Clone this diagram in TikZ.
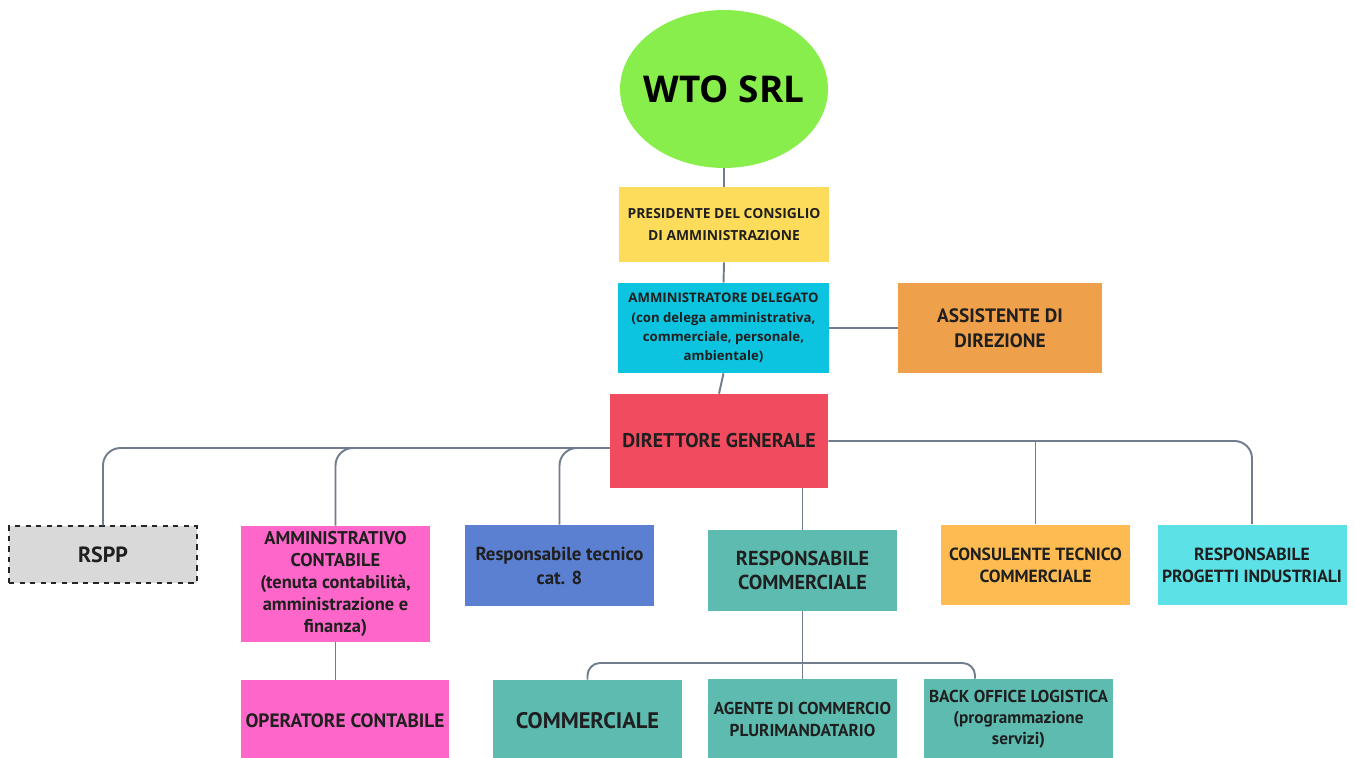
\documentclass[tikz,border=0pt]{standalone}
\usepackage{fontspec}
\setmainfont{PT Sans}
\newfontfamily\opensans{Open Sans}
\usetikzlibrary{shapes.geometric}
\definecolor{linec}{HTML}{717C8E}
\definecolor{wtog}{HTML}{88EE4C}
\definecolor{presy}{HTML}{FDDC5C}
\definecolor{adc}{HTML}{0CC4E0}
\definecolor{assc}{HTML}{EFA04B}
\definecolor{dgr}{HTML}{F04B5E}
\definecolor{rsppg}{HTML}{D9D9D9}
\definecolor{pinkc}{HTML}{FF66C9}
\definecolor{bluec}{HTML}{5B80D2}
\definecolor{tealc}{HTML}{5DBBB0}
\definecolor{consc}{HTML}{FDBB52}
\definecolor{progc}{HTML}{5CE1E6}
\tikzset{ b/.style = { rectangle
                     , inner sep      = 1pt
                     , align          = center
                     , text           = black!88
                     , font           = \bfseries\fontsize{10.2}{12.5}\selectfont
                     , minimum width  = 3.78cm
                     , minimum height = 1.62cm
                     },
          link/.style = { draw = linec
                        , line width = 1.1pt
                        , rounded corners = 0.35cm
                        }
        }

\begin{document}
\begin{tikzpicture}[x=0.02cm, y=-0.02cm]
    \useasboundingbox (0,0) rectangle (1355,757);
    \clip (0,0) rectangle (1355,757);
    % top of the chart
    \node[ellipse, fill=wtog, inner sep=0pt, minimum width=4.16cm, minimum height=3.16cm,
          font=\opensans\bfseries\fontsize{21}{26}\selectfont] (wto) at (724,89)
          {\makebox[0pt]{WTO SRL}};
    \node[b, fill=presy, minimum width=4.2cm, minimum height=1.5cm,
          font=\opensans\bfseries\fontsize{7.9}{12.5}\selectfont] (pres) at (724,224.5)
          {PRESIDENTE DEL CONSIGLIO\\DI AMMINISTRAZIONE};
    \node[b, fill=adc, minimum width=4.22cm, minimum height=1.8cm,
          font=\opensans\bfseries\fontsize{7.5}{11}\selectfont] (ad) at (723.5,328)
          {AMMINISTRATORE DELEGATO\\(con delega amministrativa,\\commerciale, personale,\\ambientale)};
    \node[b, fill=assc, minimum width=4.08cm, minimum height=1.8cm,
          font=\bfseries\fontsize{11}{14}\selectfont] (ass) at (1000,328) {ASSISTENTE DI\\DIREZIONE};
    \node[b, fill=dgr, minimum width=4.36cm, minimum height=1.88cm,
          font=\bfseries\fontsize{11.3}{13}\selectfont] (dg) at (719,441) {DIRETTORE GENERALE};
    % second row
    %\node[b, fill=rsppg] (rspp) at (103,554.5) {RSPP};
    \node[b, fill=rsppg, draw=black!85, dashed, thick, minimum width=3.76cm,
          minimum height=1.14cm, font=\bfseries\fontsize{12.5}{14}\selectfont] (rspp) at (103,554.5) {RSPP};
    \node[b, fill=pinkc, minimum height=2.32cm, font=\bfseries\fontsize{10.5}{12.5}\selectfont] (amm) at (335.5,584)
          {AMMINISTRATIVO\\CONTABILE\\(tenuta contabilità,\\amministrazione e\\finanza)};
    \node[b, fill=bluec, font=\bfseries\fontsize{10.7}{13.6}\selectfont] (rtec) at (559.5,565.5)
          {Responsabile tecnico\\cat. 8};
    \node[b, fill=tealc, font=\bfseries\fontsize{11.5}{14}\selectfont] (rcom) at (802.5,570.5)
          {RESPONSABILE\\COMMERCIALE};
    \node[b, fill=consc, font=\bfseries\fontsize{10}{12.5}\selectfont] (cons) at (1035.5,565) {CONSULENTE TECNICO\\COMMERCIALE};
    \node[b, fill=progc, font=\bfseries\fontsize{10}{12.5}\selectfont] (prog) at (1252,565) {RESPONSABILE\\PROGETTI INDUSTRIALI};
    % third row
    \node[b, fill=pinkc, minimum width=4.16cm, font=\bfseries\fontsize{11}{13}\selectfont] (oper) at (345,720.5)
          {OPERATORE CONTABILE};
    \node[b, fill=tealc, font=\bfseries\fontsize{12.8}{14}\selectfont] (comm) at (587.5,720.5) {COMMERCIALE};
    \node[b, fill=tealc, font=\bfseries\fontsize{9.8}{12.5}\selectfont] (agen) at (802.5,719.5)
          {AGENTE DI COMMERCIO\\PLURIMANDATARIO};
    \node[b, fill=tealc, font=\bfseries\fontsize{9.8}{12}\selectfont] (back) at (1018.5,719.5)
          {BACK OFFICE LOGISTICA\\(programmazione\\servizi)};
    % connectors
    \coordinate (dgl) at ([yshift=-0.14cm]dg.west);
    \coordinate (hub) at (802.5,663);
    \coordinate (bo) at ([xshift=-0.87cm]back.north);
    \draw[link] (wto.south) -- (pres.north);
    \draw[link] (pres.south) -- (ad.north);
    \draw[link] (ad.south) -- (dg.north);
    \draw[link] (ad.east) -- (ass.west);
    \draw[link] (dgl) -| (rspp.north);
    \draw[link] (dgl) -| (amm.north);
    \draw[link] (dgl) -| (rtec.north);
    \draw[link] (dg.east) -| (prog.north);
    \draw[link] (cons.north |- dg.east) -- (cons.north);
    \draw[link] (rcom.north |- dg.south) -- (rcom.north);
    \draw[link] (amm.south) -- (amm.south |- oper.north);
    \draw[link] (rcom.south) -- (agen.north);
    \draw[link, rounded corners=0.25cm] (hub) -| (comm.north);
    \draw[link, rounded corners=0.25cm] (hub) -| (bo);
\end{tikzpicture}
\end{document}
